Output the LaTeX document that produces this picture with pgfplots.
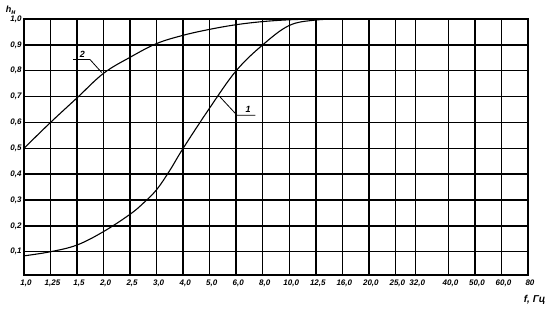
\documentclass[border=0pt]{standalone}
\usepackage{pgfplots}
\pgfplotsset{compat=1.18}
\usepackage{fontspec}
\setmainfont{Liberation Sans}
\begin{document}
\begin{tikzpicture}
\begin{axis}[
  scale only axis,
  width=504pt, height=256pt,
  xmin=0, xmax=19, ymin=0.01, ymax=1.0,
  xtick={0,1,2,3,4,5,6,7,8,9,10,11,12,13,14,14.75,16,17,18,19},
  xticklabels={1{,}0,1{,}25,1{,}5,2{,}0,2{,}5,3{,}0,4{,}0,5{,}0,6{,}0,8{,}0,10{,}0,12{,}5,16{,}0,20{,}0,25{,}0,32{,}0,40{,}0,50{,}0,60{,}0,80},
  ytick={0.1,0.2,0.3,0.4,0.5,0.6,0.7,0.8,0.9,1.0},
  yticklabels={0{,}1,0{,}2,0{,}3,0{,}4,0{,}5,0{,}6,0{,}7,0{,}8,0{,}9,1{,}0},
  major tick length=0pt,
  grid=major,
  major grid style={black, line width=1.5pt},
  axis line style={black, line width=1.6pt},
  tick label style={font=\fontsize{8}{9}\selectfont\itshape\bfseries},
  xticklabel style={yshift=-1pt, xshift=2pt},
  yticklabel style={xshift=1pt},
  clip=false,
]
\addplot[black, line width=1.1pt, smooth, tension=0.6] coordinates {
 (0,0.5) (1,0.6) (2,0.695) (3,0.79) (4,0.852) (5,0.905) (6,0.937) (7,0.96) (8,0.978) (9,0.99) (10,0.997) (11,1.0)
};
\addplot[black, line width=1.1pt, smooth, tension=0.6] coordinates {
 (0,0.084) (1,0.1) (2,0.126) (3,0.178) (4,0.245) (4.5,0.288) (5,0.34) (5.5,0.415) (6,0.5) (7,0.656) (8,0.8) (9,0.9) (10,0.975) (11,0.996) (12,1.0)
};
% leader lines for labels
\draw[black, line width=0.8pt] (axis cs:1.85,0.843) -- (axis cs:2.49,0.843) -- (axis cs:2.93,0.793);
\node[font=\fontsize{9}{9}\selectfont\itshape\bfseries] at (axis cs:2.2,0.865) {2};
\draw[black, line width=0.8pt] (axis cs:7.35,0.703) -- (axis cs:8.03,0.628) -- (axis cs:8.72,0.628);
\node[font=\fontsize{9}{9}\selectfont\itshape\bfseries] at (axis cs:8.45,0.652) {1};
\node[font=\fontsize{9}{9}\selectfont\itshape\bfseries] at (axis cs:-0.5,1.035) {h\raisebox{-2pt}{\fontsize{7}{7}\selectfont н}};
\node[font=\fontsize{10}{10}\selectfont\itshape\bfseries] at (axis cs:19.25,-0.085) {f, Гц};
\end{axis}
\pgfresetboundingbox
\path (-24pt,-37pt) rectangle (523pt,275pt);
\end{tikzpicture}
\end{document}
